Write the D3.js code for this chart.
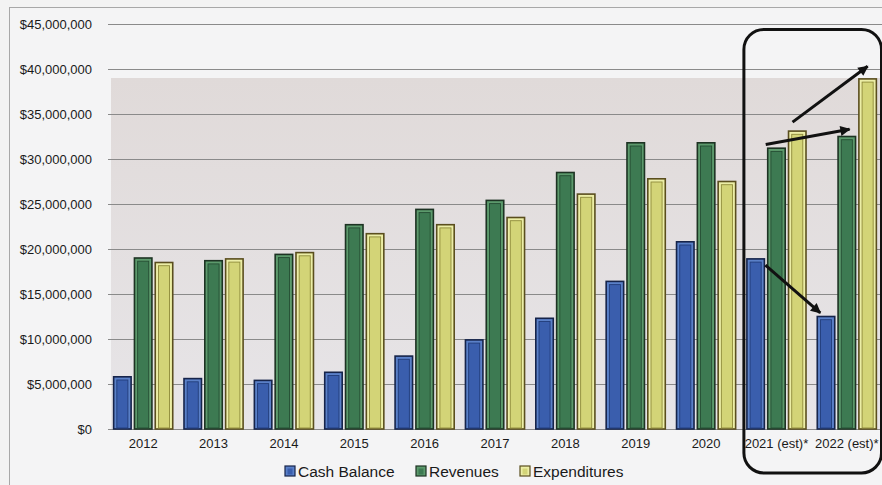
<!DOCTYPE html>
<html>
<head>
<meta charset="utf-8">
<script src="https://cdn.jsdelivr.net/npm/d3@7"></script>
<style>
  html, body { margin: 0; padding: 0; background: #f3f3f3; }
  svg { display: block; }
  text { font-family: "Liberation Sans", Arial, sans-serif; fill: #1a1a1a; }
</style>
</head>
<body>
<svg id="chart" width="882" height="485"></svg>
<script>
// Fiscal years shown on the category axis
const years = ["2012", "2013", "2014", "2015", "2016", "2017", "2018", "2019", "2020", "2021 (est)*", "2022 (est)*"];
// Series names (legend order)
const seriesNames = ["Cash Balance", "Revenues", "Expenditures"];
// Values in dollars
const cashBalance  = [5800000, 5600000, 5400000, 6300000, 8100000, 9900000, 12300000, 16400000, 20800000, 18900000, 12500000];
const revenues     = [19000000, 18700000, 19400000, 22700000, 24400000, 25400000, 28500000, 31800000, 31800000, 31200000, 32500000];
const expenditures = [18500000, 18900000, 19600000, 21700000, 22700000, 23500000, 26100000, 27800000, 27500000, 33100000, 38900000];
// Value axis ticks
const yTicks = [0, 5000000, 10000000, 15000000, 20000000, 25000000, 30000000, 35000000, 40000000, 45000000];

const seriesValues = [cashBalance, revenues, expenditures];

// Bevel colours per series: edge, frame, core, inner line
const palette = {
  "Cash Balance": { edge: "#16244a", frame: "#5a80c8", core: "#3a5ead", line: "#223d7a" },
  "Revenues":     { edge: "#1d3323", frame: "#5c9a6c", core: "#3d7a52", line: "#254d33" },
  "Expenditures": { edge: "#5a4e1e", frame: "#eceea6", core: "#d3d477", line: "#8e8a3a" }
};

const svg = d3.select("#chart");

const x0 = d3.scaleBand().domain(years).range([108, 882]).paddingInner(0.16).paddingOuter(0.08);
const x1 = d3.scaleBand().domain(seriesNames).range([0, x0.bandwidth()]).paddingInner(0.16);
const y = d3.scaleLinear().domain([0, 45000000]).range([429, 24]);

// Outer frame of the chart object
svg.append("rect").attr("x", 9.5).attr("y", 7.5).attr("width", 900).attr("height", 500)
  .attr("fill", "#f4f4f5").attr("stroke", "#a8a8a8").attr("stroke-width", 1);

// Back wall
const defs = svg.append("defs");
const wallGrad = defs.append("linearGradient").attr("id", "wall").attr("x1", 0).attr("y1", 0).attr("x2", 0).attr("y2", 1);
wallGrad.append("stop").attr("offset", "0%").attr("stop-color", "#e0dad9");
wallGrad.append("stop").attr("offset", "100%").attr("stop-color", "#e7e5e8");
svg.append("rect")
  .attr("x", x0.range()[0] + 3).attr("y", y(39000000))
  .attr("width", x0.range()[1] - x0.range()[0] - 3).attr("height", y(0) - y(39000000))
  .attr("fill", "url(#wall)");

// Gridlines and value axis labels
const yAxis = d3.axisLeft(y).tickValues(yTicks).tickSize(-(x0.range()[1] - x0.range()[0]))
  .tickPadding(16).tickFormat(d => "$" + d3.format(",")(d));
const gy = svg.append("g").attr("transform", `translate(${x0.range()[0]},0)`).call(yAxis);
gy.select(".domain").remove();
gy.selectAll(".tick line").attr("stroke", "#8a8a8a").attr("stroke-width", 1.2);
gy.selectAll(".tick text").attr("font-size", 13).attr("fill", "#111")
  .style("font-family", "'Liberation Sans', Arial, sans-serif");

// Bars
function drawBar(g, bx, by, bw, bh, c) {
  if (bh <= 0) return;
  g.append("rect").attr("x", bx).attr("y", by).attr("width", bw).attr("height", bh)
    .attr("fill", c.frame).attr("stroke", c.edge).attr("stroke-width", 1.6);
  const inset = 3.2;
  g.append("rect").attr("x", bx + inset).attr("y", by + inset)
    .attr("width", Math.max(0, bw - 2 * inset)).attr("height", Math.max(0, bh - inset - 1))
    .attr("fill", c.core).attr("stroke", c.line).attr("stroke-width", 0.9);
}

const barsG = svg.append("g");
years.forEach((yr, i) => {
  seriesNames.forEach((s, k) => {
    const v = seriesValues[k][i];
    drawBar(barsG, x0(yr) + x1(s), y(v), x1.bandwidth(), y(0) - y(v), palette[s]);
  });
});

// Category labels
const xAxis = d3.axisBottom(x0).tickSize(0).tickPadding(10);
const gx = svg.append("g").attr("transform", `translate(0,${y(0)})`).call(xAxis);
gx.select(".domain").remove();
gx.selectAll(".tick text").attr("font-size", 13).attr("fill", "#111")
  .style("font-family", "'Liberation Sans', Arial, sans-serif");

// Legend
const legendItems = [
  { name: seriesNames[0], x: 285 },
  { name: seriesNames[1], x: 416 },
  { name: seriesNames[2], x: 520 }
];
const lg = svg.append("g");
legendItems.forEach(it => {
  const c = palette[it.name];
  lg.append("rect").attr("x", it.x).attr("y", 466).attr("width", 10).attr("height", 10)
    .attr("fill", c.frame).attr("stroke", c.edge).attr("stroke-width", 1.2);
  lg.append("rect").attr("x", it.x + 2.5).attr("y", 468.5).attr("width", 5).attr("height", 6)
    .attr("fill", c.core);
  lg.append("text").attr("x", it.x + 13).attr("y", 477).attr("font-size", 15.5).text(it.name);
});

// Highlight box around the estimated years
const estStart = x0(years[9]);
svg.append("rect")
  .attr("x", estStart - 3).attr("y", y(44400000))
  .attr("width", x0.range()[1] - 0.5 - (estStart - 3)).attr("height", 473 - y(44400000))
  .attr("rx", 20).attr("ry", 20)
  .attr("fill", "none").attr("stroke", "#111").attr("stroke-width", 3);

// Trend arrows for the estimated years
defs.append("marker").attr("id", "head").attr("viewBox", "0 0 10 10")
  .attr("refX", 9).attr("refY", 5).attr("markerWidth", 4.2).attr("markerHeight", 3.4)
  .attr("orient", "auto").attr("markerUnits", "strokeWidth")
  .append("path").attr("d", "M0,0 L10,5 L0,10 z").attr("fill", "#111");

const e21 = years[9], e22 = years[10];
const arrows = [
  // expenditures rising
  { x1: x0(e21) + x1("Expenditures") + 4, v1: 34100000, x2: x0(e22) + x1("Expenditures") + x1.bandwidth() / 2, v2: 40300000 },
  // revenues rising
  { x1: x0(e21) + x1("Revenues") - 2, v1: 31600000, x2: x0(e22) + x1("Revenues") + x1.bandwidth() - 6, v2: 33300000 },
  // cash balance falling
  { x1: x0(e21) + x1("Cash Balance") + x1.bandwidth() + 1, v1: 18200000, x2: x0(e22) + x1("Cash Balance") + 3, v2: 12900000 }
];
svg.append("g").selectAll("line").data(arrows).join("line")
  .attr("x1", d => d.x1).attr("y1", d => y(d.v1))
  .attr("x2", d => d.x2).attr("y2", d => y(d.v2))
  .attr("stroke", "#111").attr("stroke-width", 3).attr("marker-end", "url(#head)");
</script>
</body>
</html>
